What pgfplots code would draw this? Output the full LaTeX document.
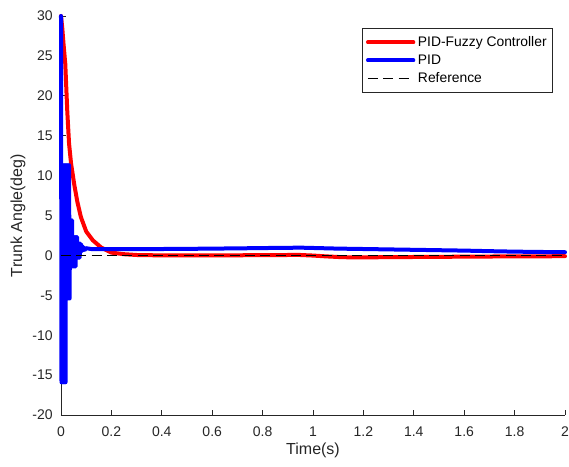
\documentclass[border=0pt]{standalone}
\usepackage{pgfplots}
\pgfplotsset{compat=1.18}
\usepackage{fontspec}
\setmainfont{Liberation Sans}
\definecolor{axgray}{rgb}{0.15,0.15,0.15}
\begin{document}
\begin{tikzpicture}
\begin{axis}[
  name=ax,
  scale only axis,
  width=378pt, height=299.25pt,
  xmin=0, xmax=2, ymin=-20, ymax=30,
  xtick={0,0.2,...,2.01},
  ytick={-20,-15,...,30},
  axis x line*=bottom, axis y line*=left,
  axis line style={-, draw=axgray, line width=0.5pt},
  tick align=inside,
  major tick length=3.75pt,
  tick style={draw=axgray, line width=0.5pt},
  /pgf/number format/assume math mode=true,
  /pgf/number format/fixed, /pgf/number format/precision=1,
  tick label style={font=\fontsize{10.5}{12}\selectfont, text=axgray},
  yticklabel style={inner sep=0pt, anchor=east, xshift=-6pt},
  xticklabel style={inner sep=0pt, anchor=north, yshift=-8.5pt},
  xlabel={Time(s)}, ylabel={Trunk Angle(deg)},
  label style={font=\fontsize{12}{14}\selectfont, text=axgray},
  xlabel style={at={(axis description cs:0.5,-0.088)}, anchor=center},
  ylabel style={at={(axis description cs:-0.0853,0.5)}, anchor=center},
  clip=false,
  legend cell align=left,
  legend style={at={(rel axis cs:0.9762,0.9699)}, anchor=north east,
    font=\fontsize{10.4}{12}\selectfont, draw=axgray, line width=0.5pt,
    inner xsep=2.5pt, inner ysep=3.75pt,
    nodes={inner sep=2pt, text height=7.5pt, text depth=2pt}},
  legend image code/.code={\draw[#1] (0pt,0pt) -- (34pt,0pt);},
]
\addplot[red, line width=3pt, line join=round, line cap=round] coordinates {
(0,30) (0.005,28.5) (0.01,26.5) (0.017,24) (0.025,18) (0.032,14) (0.04,11.5)
(0.053,8.8) (0.065,6.7) (0.079,4.8) (0.1,3.0) (0.126,1.9) (0.159,1.0)
(0.2,0.35) (0.25,0.15) (0.3,0.05) (0.4,0.0) (0.6,0.0) (0.8,0.03) (0.9,0.05)
(0.95,0.05) (1.0,-0.02) (1.05,-0.12) (1.1,-0.2) (1.15,-0.25) (1.2,-0.25)
(1.3,-0.22) (1.5,-0.18) (1.7,-0.14) (2.0,-0.1)
};
\addlegendentry{PID-Fuzzy Controller}
\addplot[blue, line width=3pt, line join=round, line cap=round] coordinates {
(0,30) (0.002,-15.9) (0.004,11.3) (0.006,-15.9) (0.008,11.3) (0.010,-15.9)
(0.012,11.3) (0.014,-15.9) (0.016,11.3) (0.018,-15.9) (0.020,11.3)
(0.022,-5.4) (0.024,11.3) (0.026,-5.4) (0.028,11.3) (0.030,-5.4) (0.032,11.3)
(0.034,-5.4) (0.036,4.4) (0.038,-1.4) (0.040,4.4) (0.042,-1.4) (0.044,4.4)
(0.046,-1.4) (0.048,2.3) (0.050,-1.4) (0.052,2.3) (0.054,-1.4) (0.056,2.3)
(0.058,-1.4) (0.060,2.3) (0.062,-0.3) (0.064,2.3) (0.066,-0.3) (0.068,1.5)
(0.070,-0.3) (0.072,1.5) (0.074,-0.3) (0.076,1.5) (0.078,0.4) (0.080,1.4)
(0.082,0.5) (0.084,1.2) (0.086,0.6) (0.090,1.0) (0.095,0.7) (0.1,0.9)
(0.12,0.8) (0.2,0.78) (0.3,0.78) (0.4,0.8) (0.5,0.82) (0.6,0.85) (0.7,0.88)
(0.8,0.92) (0.9,0.95) (0.95,0.97) (1.0,0.93) (1.1,0.85) (1.2,0.8) (1.3,0.75)
(1.4,0.7) (1.5,0.65) (1.6,0.6) (1.7,0.53) (1.8,0.47) (1.9,0.43) (2.0,0.4)
};
\addlegendentry{PID}
\addplot[black, line width=0.75pt, dash pattern=on 7.5pt off 4pt] coordinates {(0,0) (2,0)};
\addlegendentry{Reference}
\end{axis}
\pgfresetboundingbox
\path ([xshift=-45.75pt,yshift=-39pt]ax.south west) rectangle ([xshift=3pt,yshift=12pt]ax.north east);
\end{tikzpicture}
\end{document}
